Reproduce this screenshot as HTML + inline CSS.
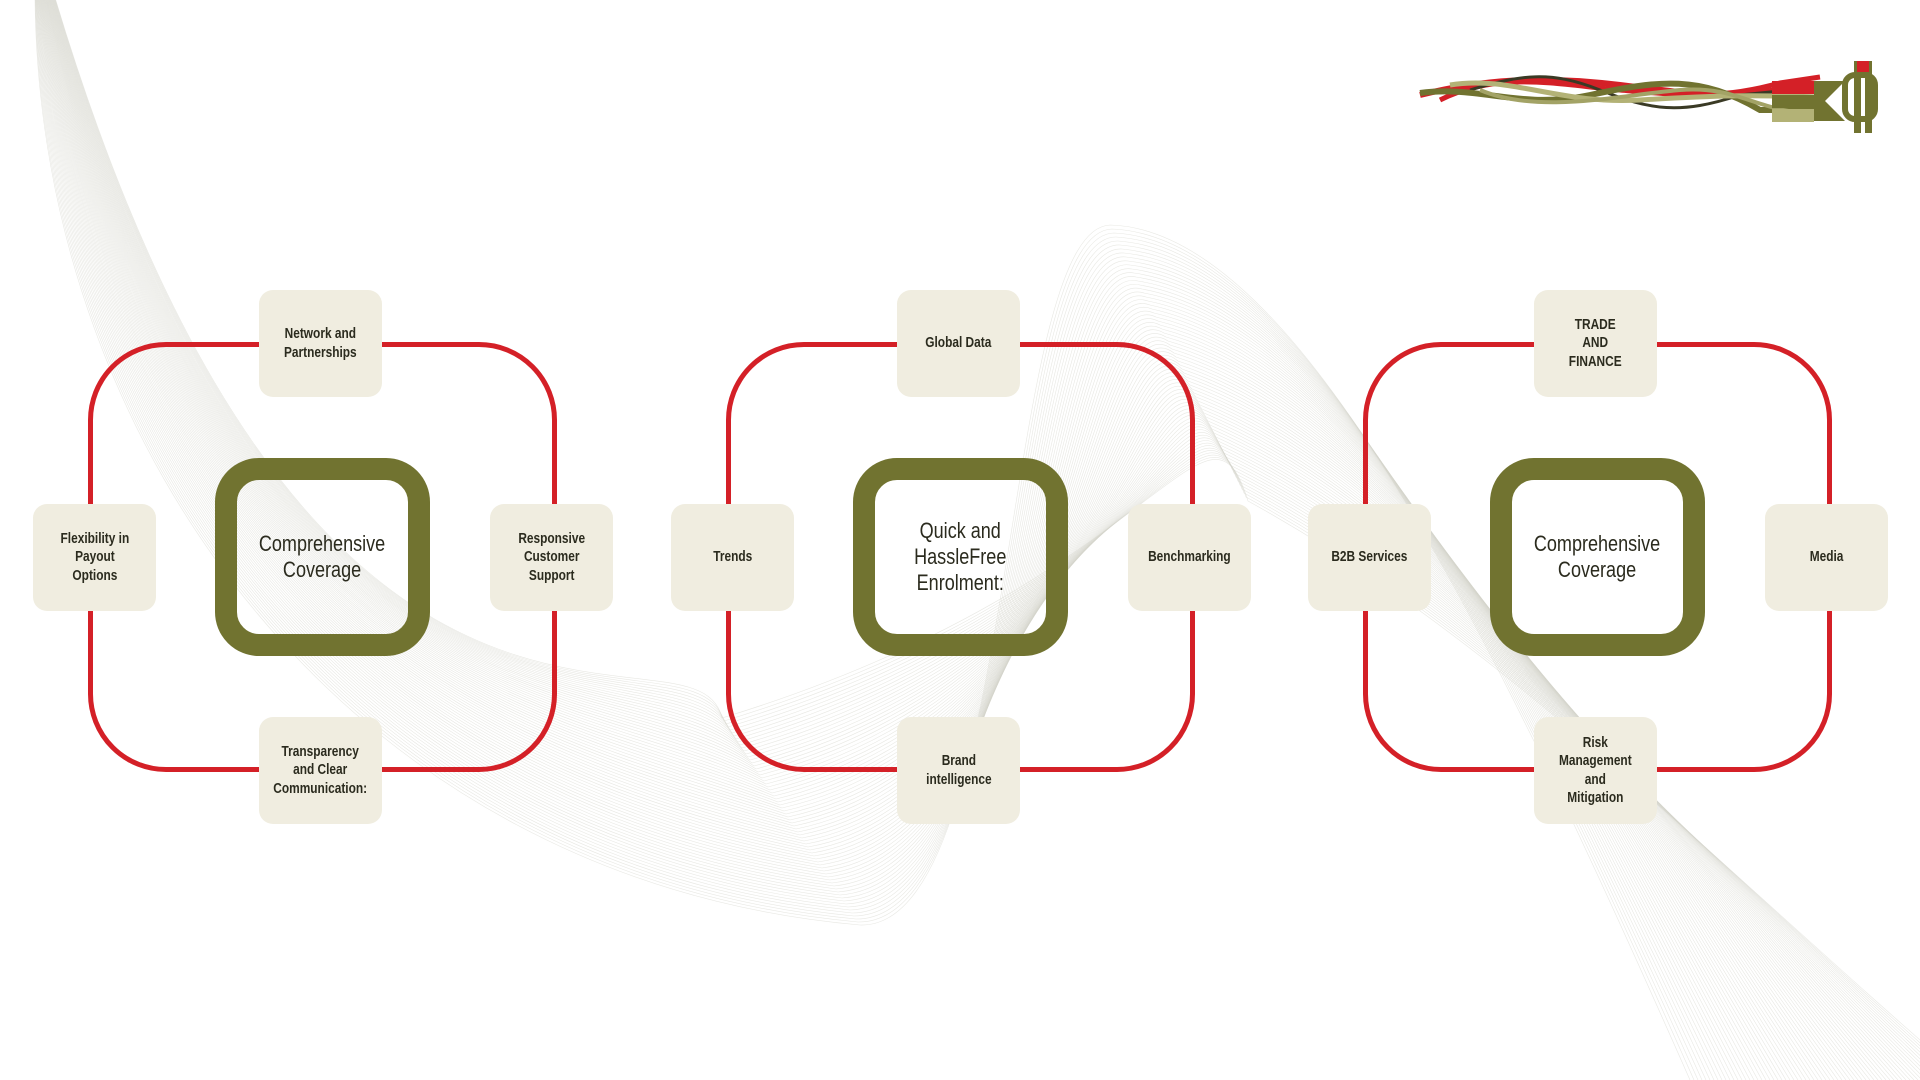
<!DOCTYPE html>
<html><head><meta charset="utf-8"><style>
html,body{margin:0;padding:0;background:#fff;}
#c{position:relative;width:1920px;height:1080px;overflow:hidden;background:#fff;font-family:"Liberation Sans Narrow","Liberation Sans",sans-serif;}
.ring{position:absolute;border:5px solid #d42027;border-radius:78px;box-sizing:border-box;}
.core{position:absolute;border:22px solid #717330;border-radius:44px;box-sizing:border-box;display:flex;align-items:center;justify-content:center;text-align:center;color:#2b2b1e;font-size:22px;line-height:26px;}
.b{position:absolute;width:123px;height:107px;background:#f0ede0;border-radius:14px;display:flex;align-items:center;justify-content:center;text-align:center;color:#2b2b1e;font-size:14.5px;line-height:18.5px;font-weight:bold;}
.b span,.core span{display:inline-block;transform:scaleX(0.82);white-space:nowrap;}
svg{position:absolute;left:0;top:0;}
</style></head><body><div id="c">
<svg width="1920" height="1080" id="bg"></svg>
<svg width="1920" height="1080" viewBox="0 0 1920 1080">
<g transform="translate(1420,55)">
<path d="M0,40 C60,25 120,20 200,30 S320,45 380,30 L400,30" stroke="#d42027" stroke-width="6" fill="none"/>
<path d="M20,45 C80,15 140,30 200,35 S300,45 360,28 L400,22" stroke="#d42027" stroke-width="5" fill="none"/>
<path d="M50,35 C100,20 130,15 180,35 S260,60 320,40 L370,35" stroke="#3a3a25" stroke-width="3" fill="none"/>
<path d="M0,38 C60,30 100,55 170,40 S280,20 340,55 L400,55" stroke="#717330" stroke-width="6" fill="none"/>
<path d="M30,30 C90,20 140,50 220,45 S330,40 400,42" stroke="#b3b276" stroke-width="5" fill="none"/>
<path d="M60,35 C120,60 200,40 260,35 S340,60 400,58" stroke="#a3a366" stroke-width="4" fill="none"/>
<rect x="352" y="26" width="42" height="13" fill="#d42027"/>
<rect x="352" y="40" width="42" height="13" fill="#717330"/>
<rect x="352" y="54" width="42" height="13" fill="#b3b276"/>
<path d="M394,26 L425,26 L405,46 L425,66 L394,66 Z" fill="#717330"/>
<rect x="425" y="20" width="30" height="44" rx="10" fill="none" stroke="#717330" stroke-width="6"/>
<rect x="434" y="6" width="7" height="72" fill="#717330"/>
<rect x="445" y="6" width="7" height="72" fill="#717330"/>
<rect x="437" y="6" width="12" height="11" fill="#d42027"/>
</g></svg>

<div class="ring" style="left:88px;top:342px;width:469px;height:430px"></div>
<div class="core" style="left:215px;top:458px;width:215px;height:198px"><span>Comprehensive<br>Coverage</span></div>
<div class="b" style="left:259px;top:290px"><span>Network and<br>Partnerships</span></div>
<div class="b" style="left:33px;top:504px"><span>Flexibility in<br>Payout<br>Options</span></div>
<div class="b" style="left:490px;top:504px"><span>Responsive<br>Customer<br>Support</span></div>
<div class="b" style="left:259px;top:717px"><span>Transparency<br>and Clear<br>Communication:</span></div>

<div class="ring" style="left:726px;top:342px;width:469px;height:430px"></div>
<div class="core" style="left:853px;top:458px;width:215px;height:198px"><span>Quick and<br>HassleFree<br>Enrolment:</span></div>
<div class="b" style="left:897px;top:290px"><span>Global Data</span></div>
<div class="b" style="left:671px;top:504px"><span>Trends</span></div>
<div class="b" style="left:1128px;top:504px"><span>Benchmarking</span></div>
<div class="b" style="left:897px;top:717px"><span>Brand<br>intelligence</span></div>

<div class="ring" style="left:1363px;top:342px;width:469px;height:430px"></div>
<div class="core" style="left:1490px;top:458px;width:215px;height:198px"><span>Comprehensive<br>Coverage</span></div>
<div class="b" style="left:1534px;top:290px"><span>TRADE<br>AND<br>FINANCE</span></div>
<div class="b" style="left:1308px;top:504px"><span>B2B Services</span></div>
<div class="b" style="left:1765px;top:504px"><span>Media</span></div>
<div class="b" style="left:1534px;top:717px"><span>Risk<br>Management<br>and<br>Mitigation</span></div>
</div>
<script>
var s=document.getElementById('bg'),h='';
for(var i=0;i<70;i++){
 var t=i;
 h+='<path d="M'+(35+t*0.3)+',0 C'+(40+t*4)+','+(450+t*6)+' '+(350+t*5)+','+(880-t*4)+' '+(860-t*2)+','+(925-t*3)+' C'+(1020+t*2)+','+(930-t*5)+' '+(1000+t*3)+','+(230+t*2)+' '+(1110+t*2)+','+(225+t*4)+' C'+(1300+t*3)+','+(230+t*6)+' '+(1500+t*3)+','+(650+t*3)+' '+(1690+t*4)+',1080" fill="none" stroke="#d6d6cc" stroke-width="0.6" opacity="0.55"/>';
}
s.innerHTML=h;
</script>
</body></html>
